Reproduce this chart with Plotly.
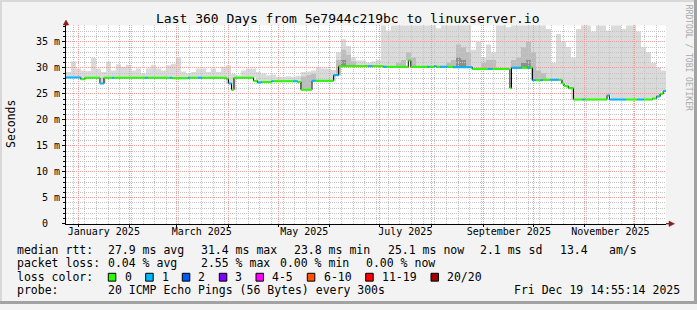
import plotly.graph_objects as go
import pandas as pd

START = pd.Timestamp("2024-12-24 14:55:14")
END = pd.Timestamp("2025-12-19 14:55:14")

# ---------------- data ----------------
med_start = [
    "2024-12-24 14:55", "2025-01-02 12:00", "2025-01-05 00:00", "2025-01-14 00:00", "2025-01-16 10:00",
    "2025-01-21 05:00", "2025-01-22 10:00", "2025-02-10 00:00", "2025-02-11 14:00", "2025-02-25 00:00",
    "2025-02-26 07:00", "2025-03-07 21:00", "2025-03-09 00:00", "2025-03-13 22:00", "2025-03-16 07:00",
    "2025-03-30 17:00", "2025-04-01 02:00", "2025-04-02 22:00", "2025-04-04 10:00", "2025-04-16 03:00",
    "2025-04-18 12:00", "2025-04-20 22:00", "2025-04-26 22:00", "2025-04-28 00:00", "2025-05-10 00:00",
    "2025-05-12 14:00", "2025-05-14 14:00", "2025-05-21 05:00", "2025-05-23 05:00", "2025-06-03 05:00",
    "2025-06-06 05:00", "2025-06-24 00:00", "2025-06-26 10:00", "2025-07-03 00:00", "2025-07-04 19:00",
    "2025-07-18 00:00", "2025-07-19 12:00", "2025-07-29 10:00", "2025-07-30 14:00", "2025-08-02 14:00",
    "2025-08-03 19:00", "2025-08-06 05:00", "2025-08-10 10:00", "2025-08-14 00:00", "2025-08-25 10:00",
    "2025-09-04 00:00", "2025-09-06 10:00", "2025-09-17 00:00", "2025-09-17 22:00", "2025-09-23 22:00",
    "2025-09-27 12:00", "2025-09-29 00:00", "2025-09-30 12:00", "2025-10-02 07:00", "2025-10-05 07:00",
    "2025-10-06 12:00", "2025-10-11 07:00", "2025-10-16 02:00", "2025-10-18 05:00", "2025-10-19 10:00",
    "2025-10-22 00:00", "2025-10-25 02:00", "2025-10-30 12:00", "2025-10-31 17:00", "2025-11-14 05:00",
    "2025-11-15 17:00", "2025-11-25 10:00", "2025-12-02 14:00", "2025-12-06 05:00", "2025-12-11 14:00",
    "2025-12-14 00:00", "2025-12-16 02:00", "2025-12-17 22:00",
]
med_value = [
    28.15, 27.8, 28.1, 27.0, 28.1, 28.1, 28.1, 28.1, 28.1, 28.1,
    28.0, 28.1, 28.1, 28.1, 28.1, 27.9, 27.0, 25.8, 28.1, 27.5,
    27.2, 27.3, 27.4, 27.4, 27.4, 27.3, 25.8, 27.5, 27.5, 28.6,
    30.3, 30.3, 30.3, 30.2, 30.2, 31.4, 30.2, 30.2, 30.2, 30.3,
    30.2, 30.2, 30.2, 30.1, 29.8, 29.8, 29.8, 26.1, 30.0, 30.0,
    30.0, 30.0, 27.6, 27.6, 27.6, 27.7, 27.7, 27.7, 27.0, 26.5,
    26.1, 23.9, 23.9, 23.9, 24.7, 23.9, 23.9, 23.9, 23.9, 24.1,
    24.5, 25.0, 25.5,
]
med_loss = [
    1, 0, 0, 1, 0, 1, 0, 1, 0, 1,
    0, 1, 0, 1, 0, 0, 1, 0, 0, 0,
    1, 0, 1, 0, 1, 0, 0, 1, 0, 1,
    0, 1, 0, 1, 0, 0, 0, 1, 0, 1,
    0, 1, 0, 1, 0, 1, 0, 0, 1, 0,
    1, 0, 1, 0, 1, 0, 1, 0, 0, 0,
    0, 0, 1, 0, 1, 1, 0, 1, 0, 0,
    1, 0, 1,
]

# smoke (3-day bins from START): top of the lightest band
smoke_hi = [
    29.2, 31.2, 29.9, 29.5, 29.4, 31.9, 29.9, 29.2, 31.2, 29.5,
    30.7, 30.2, 30.6, 29.5, 29.9, 28.9, 29.9, 30.6, 29.9, 29.5,
    30.5, 30.8, 32.1, 29.3, 28.9, 29.2, 29.9, 29.9, 29.2, 29.9,
    29.2, 30.2, 30.5, 28.8, 28.6, 29.5, 29.9, 29.9, 29.2, 28.9,
    28.6, 28.7, 28.3, 28.3, 28.4, 28.3, 28.5, 29.2, 29.3, 29.5,
    30.2, 29.9, 29.9, 29.6, 33.0, 35.5, 34.2, 32.0, 31.4, 31.4,
    31.0, 31.2, 31.5, 38.5, 37.2, 38.5, 38.5, 38.5, 38.5, 38.5,
    38.5, 38.5, 38.5, 38.5, 37.6, 38.5, 38.5, 38.5, 38.5, 38.5,
    38.5, 33.5, 35.0, 32.0, 34.5, 33.0, 38.5, 38.5, 37.8, 38.5,
    38.5, 38.5, 38.5, 38.5, 38.5, 38.5, 37.5, 31.0, 36.5, 35.0,
    34.0, 32.0, 37.5, 38.5, 38.5, 37.0, 38.5, 38.5, 37.2, 38.5,
    38.5, 37.5, 38.5, 38.5, 37.0, 34.0, 33.0, 31.0, 30.0, 29.5,
]
# top of the medium-grey band (0 = none)
smoke_mid = [0] * 120
for i, v in {47: 28.3, 48: 28.6, 49: 28.8, 54: 31.5, 55: 33.5, 56: 32.5, 57: 31.2,
             66: 31.0, 67: 31.5, 68: 33.0, 69: 32.0, 76: 31.0, 77: 31.5, 78: 34.5,
             79: 34.0, 80: 33.0, 83: 31.0, 84: 31.5, 85: 31.5, 89: 31.5, 90: 32.0,
             91: 34.0, 92: 35.0, 93: 33.0, 94: 29.5, 95: 29.0}.items():
    smoke_mid[i] = v
# top of the darkest band (0 = none)
smoke_dark = [0] * 120
for i, v in {55: 31.5, 78: 32.0, 79: 31.5, 91: 31.0, 92: 31.5}.items():
    smoke_dark[i] = v

y_tick_vals = [0, 5, 10, 15, 20, 25, 30, 35]
y_tick_text = ["0\u00a0\u00a0", "5 m", "10 m", "15 m", "20 m", "25 m", "30 m", "35 m"]
month_label_dates = ["2025-01-16 07:00", "2025-03-16 02:00", "2025-05-16 14:00",
                     "2025-07-16 05:00", "2025-09-16 07:00", "2025-11-16 07:00"]
month_label_text = ["January 2025", "March 2025", "May 2025", "July 2025",
                    "September 2025", "November 2025"]
loss_labels = ["0", "1", "2", "3", "4-5", "6-10", "11-19", "20/20"]
loss_colors = ["#26ff00", "#00b8ff", "#0059ff", "#7e00ff", "#ff00ff", "#ff5500", "#ff0000", "#a10000"]

# ---------------- build ----------------
W, H = 697, 310
FONT = "DejaVu Sans Mono"
seg_s = pd.to_datetime(med_start)
seg_e = list(seg_s[1:]) + [END]

bin_w = pd.Timedelta(days=3)
bin_start = [START + k * bin_w for k in range(len(smoke_hi))]
bin_center = [(b + bin_w / 2).strftime("%Y-%m-%d %H:%M:%S") for b in bin_start]


def median_at(t):
    t = pd.Timestamp(t)
    val = med_value[0]
    for s, v in zip(seg_s, med_value):
        if s <= t:
            val = v
    return val


smoke_lo = [median_at(c) for c in bin_center]

fig = go.Figure()
BW = 3 * 86400000
for tops, col in ((smoke_hi, "#dadada"), (smoke_mid, "#bdbdbd"), (smoke_dark, "#8e8e8e")):
    hh = [round(max(t - l, 0), 3) for t, l in zip(tops, smoke_lo)]
    fig.add_trace(go.Bar(x=bin_center, y=hh, base=smoke_lo, width=BW,
                         marker=dict(color=col, line=dict(width=0)),
                         xaxis="x", yaxis="y", showlegend=False, hoverinfo="skip"))

# black step line
fig.add_trace(go.Scatter(x=list(seg_s) + [END], y=med_value + [med_value[-1]],
                         mode="lines", line=dict(color="black", width=1, shape="hv"),
                         xaxis="x2", yaxis="y2", showlegend=False, hoverinfo="skip"))
# coloured median by loss
for lvl in sorted(set(med_loss)):
    xs, ys = [], []
    for s, e, v, l in zip(seg_s, seg_e, med_value, med_loss):
        if l == lvl:
            xs += [s, e, None]
            ys += [v, v, None]
    fig.add_trace(go.Scatter(x=xs, y=ys, mode="lines",
                             line=dict(color=loss_colors[lvl], width=2),
                             xaxis="x2", yaxis="y2", showlegend=False, hoverinfo="skip"))

XD = [66 / W, 666 / W]
YD = [1 - 228.2 / H, 1 - 26 / H]
YR = [0, 38.15]
XR = [START.strftime("%Y-%m-%d %H:%M:%S"), END.strftime("%Y-%m-%d %H:%M:%S")]
RED = "#f09a9a"
GRY = "#c4c4c4"
DASH = "1px,1px"

fig.update_layout(
    width=W, height=H, margin=dict(l=0, r=0, t=0, b=0),
    paper_bgcolor="#f3f3f3", plot_bgcolor="rgba(0,0,0,0)",
    barmode="overlay", showlegend=False,
    font=dict(family=FONT, size=10, color="black"),
    xaxis=dict(type="date", domain=XD, range=XR, anchor="y", showgrid=False, zeroline=False,
               tickmode="array", tickvals=month_label_dates, ticktext=month_label_text,
               ticks="", tickfont=dict(family=FONT, size=10, color="black"),
               ticklabelstandoff=0, fixedrange=True),
    yaxis=dict(domain=YD, range=YR, anchor="x", showgrid=False, zeroline=False,
               showticklabels=False, fixedrange=True),
    xaxis2=dict(type="date", domain=XD, range=XR, anchor="y2", showgrid=True,
                gridcolor=RED, griddash=DASH, gridwidth=1, dtick="M1", tick0="2025-01-01",
                showticklabels=False, ticks="outside", ticklen=2, tickcolor="black",
                showline=True, linecolor="black", linewidth=1, zeroline=False,
                minor=dict(dtick=7 * 86400000, tick0="2024-12-29", showgrid=True,
                           gridcolor=GRY, griddash=DASH, gridwidth=1, ticks=""),
                fixedrange=True),
    yaxis2=dict(domain=YD, range=YR, anchor="x2", showgrid=True, gridcolor=RED,
                griddash=DASH, gridwidth=1, tickmode="array", tickvals=y_tick_vals,
                ticktext=y_tick_text, ticks="outside", ticklen=3, tickcolor="black",
                tickfont=dict(family=FONT, size=10, color="black"),
                showline=True, linecolor="black", linewidth=1, zeroline=False,
                minor=dict(dtick=1, showgrid=True, gridcolor=GRY, griddash=DASH,
                           gridwidth=1, ticks="outside", ticklen=2, tickcolor="black"),
                fixedrange=True),
)


def px(x):
    return x / W


def py(y):
    return 1 - y / H


shapes = []
# white canvas under the smoke subplot
shapes.append(dict(type="rect", xref="x domain", yref="y domain", x0=0, x1=1, y0=0, y1=1,
                   fillcolor="white", line=dict(width=0), layer="below"))
# frame
shapes.append(dict(type="rect", xref="paper", yref="paper", x0=0, x1=1, y0=py(2), y1=1,
                   fillcolor="#d8d8d8", line=dict(width=0), layer="below"))
shapes.append(dict(type="rect", xref="paper", yref="paper", x0=0, x1=px(2), y0=0, y1=1,
                   fillcolor="#d8d8d8", line=dict(width=0), layer="below"))
shapes.append(dict(type="rect", xref="paper", yref="paper", x0=px(694), x1=1, y0=0, y1=1,
                   fillcolor="#a2a2a2", line=dict(width=0), layer="below"))
shapes.append(dict(type="rect", xref="paper", yref="paper", x0=0, x1=1, y0=0, y1=py(307),
                   fillcolor="#a2a2a2", line=dict(width=0), layer="below"))
# axis extensions and arrows
shapes.append(dict(type="line", xref="paper", yref="paper", x0=px(666), x1=px(670),
                   y0=py(228.2), y1=py(228.2), line=dict(color="black", width=1)))
shapes.append(dict(type="line", xref="paper", yref="paper", x0=px(66), x1=px(66),
                   y0=py(26), y1=py(22), line=dict(color="black", width=1)))
ARW = "#8b1a1a"
shapes.append(dict(type="path", xref="paper", yref="paper",
                   path=f"M {px(669)},{py(225.4)} L {px(674.5)},{py(228.2)} L {px(669)},{py(231)} Z",
                   fillcolor=ARW, line=dict(color=ARW, width=0.5)))
shapes.append(dict(type="path", xref="paper", yref="paper",
                   path=f"M {px(63.2)},{py(25.5)} L {px(66)},{py(20.5)} L {px(68.8)},{py(25.5)} Z",
                   fillcolor=ARW, line=dict(color=ARW, width=0.5)))

annotations = []


def txt(x, y, s, size=11.5, color="black", angle=0, xanchor="left"):
    annotations.append(dict(x=px(x), y=py(y), xref="paper", yref="paper", text=s,
                            showarrow=False, xanchor=xanchor, yanchor="middle",
                            textangle=angle, borderpad=0,
                            font=dict(family=FONT, size=size, color=color)))


txt(347.5, 18.7, "Last 360 Days from 5e7944c219bc to linuxserver.io", size=13, xanchor="center")
txt(10.5, 127, "Seconds", size=11.5, angle=-90, xanchor="center")
txt(688, 59, "RRDTOOL / TOBI OETIKER", size=8, color="#a8a8a8", angle=90, xanchor="center")

L1, L2, L3, L4 = 255, 268.3, 282.3, 295.7
txt(16, L1, "median rtt:")
txt(107.3, L1, "27.9 ms avg")
txt(200, L1, "31.4 ms max")
txt(293.3, L1, "23.8 ms min")
txt(386.7, L1, "25.1 ms now")
txt(479.3, L1, "2.1 ms sd")
txt(559, L1, "13.4")
txt(607.7, L1, "am/s")

txt(16, L2, "packet loss:")
txt(107.3, L2, "0.04 % avg")
txt(200, L2, "2.55 % max")
txt(279.3, L2, "0.00 % min")
txt(365, L2, "0.00 % now")

txt(16, L3, "loss color:")
sq_x = [108.3, 145.7, 182.3, 219.3, 256, 307.3, 365.7, 431]
lab_x = [124, 161, 197.3, 234.3, 270.7, 322.7, 380.7, 445.7]
for sx, lx, lab, col in zip(sq_x, lab_x, loss_labels, loss_colors):
    shapes.append(dict(type="rect", xref="paper", yref="paper", x0=px(sx), x1=px(sx + 7.5),
                       y0=py(286.7), y1=py(278.7), fillcolor=col,
                       line=dict(color="black", width=1)))
    txt(lx, L3, lab)

txt(16, L4, "probe:")
txt(107.3, L4, "20 ICMP Echo Pings (56 Bytes) every 300s")
txt(513.3, L4, "Fri Dec 19 14:55:14 2025")

fig.update_layout(shapes=shapes, annotations=annotations)
fig.write_html("out.html")
